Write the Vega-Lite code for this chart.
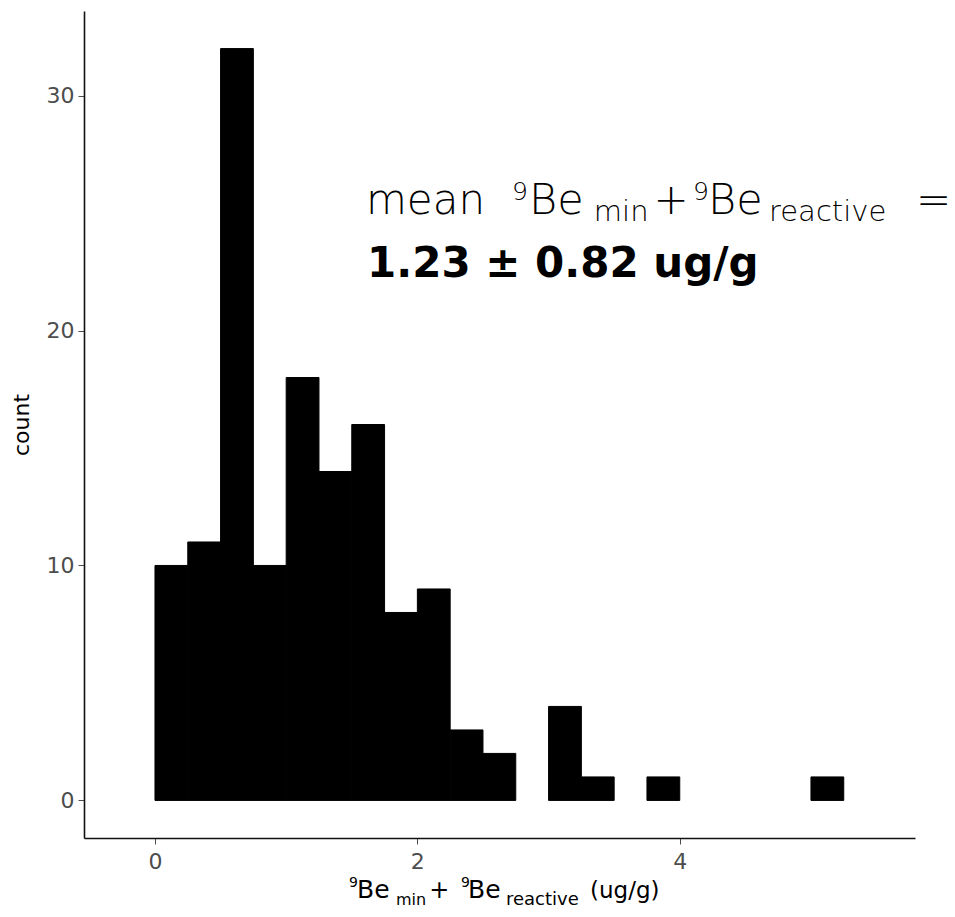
{
  "$schema": "https://vega.github.io/schema/vega-lite/v6.json",
  "width": 831,
  "height": 827,
  "autosize": {"type": "none"},
  "padding": {"left": 84, "top": 11, "right": 40, "bottom": 79},
  "background": "white",
  "config": {"view": {"stroke": null}, "font": "DejaVu Sans"},
  "layer": [
    {
      "data": {"values": [
        {"bin_start": 0.0, "bin_end": 0.25, "count": 10},
        {"bin_start": 0.25, "bin_end": 0.5, "count": 11},
        {"bin_start": 0.5, "bin_end": 0.75, "count": 32},
        {"bin_start": 0.75, "bin_end": 1.0, "count": 10},
        {"bin_start": 1.0, "bin_end": 1.25, "count": 18},
        {"bin_start": 1.25, "bin_end": 1.5, "count": 14},
        {"bin_start": 1.5, "bin_end": 1.75, "count": 16},
        {"bin_start": 1.75, "bin_end": 2.0, "count": 8},
        {"bin_start": 2.0, "bin_end": 2.25, "count": 9},
        {"bin_start": 2.25, "bin_end": 2.5, "count": 3},
        {"bin_start": 2.5, "bin_end": 2.75, "count": 2},
        {"bin_start": 3.0, "bin_end": 3.25, "count": 4},
        {"bin_start": 3.25, "bin_end": 3.5, "count": 1},
        {"bin_start": 3.75, "bin_end": 4.0, "count": 1},
        {"bin_start": 5.0, "bin_end": 5.25, "count": 1}
      ]},
      "mark": {"type": "rect", "color": "black", "stroke": "black", "strokeWidth": 1},
      "encoding": {
        "x": {
          "field": "bin_start", "type": "quantitative",
          "scale": {"domain": [-0.541, 5.793], "nice": false, "zero": false},
          "axis": {"values": [0, 2, 4], "title": null, "grid": false, "labelFontSize": 22, "labelColor": "#4d4d4d", "tickColor": "#4d4d4d", "tickSize": 6, "tickWidth": 1, "labelPadding": 7, "domainColor": "#111111", "domainWidth": 1.6, "format": "d"}
        },
        "x2": {"field": "bin_end"},
        "y": {
          "field": "count", "type": "quantitative",
          "scale": {"domain": [-1.6, 33.6], "nice": false, "zero": false},
          "axis": {"values": [0, 10, 20, 30], "title": "count", "grid": false, "labelFontSize": 22, "labelColor": "#4d4d4d", "tickColor": "#4d4d4d", "tickSize": 6, "tickWidth": 1, "labelPadding": 4, "domainColor": "#111111", "domainWidth": 1.6, "titleFontSize": 22, "titleFontWeight": "normal", "titleColor": "black", "titlePadding": 13, "format": "d"}
        },
        "y2": {"datum": 0}
      }
    },
    {"data": {"values": [{"label": "mean"}]}, "mark": {"type": "text", "align": "left", "baseline": "alphabetic", "fontSize": 42, "fontWeight": 200, "color": "black", "clip": false},
     "encoding": {"text": {"field": "label"}, "x": {"datum": 1.608}, "y": {"datum": 24.96}}},
    {"data": {"values": [{"label": "9"}]}, "mark": {"type": "text", "align": "left", "baseline": "alphabetic", "fontSize": 25, "fontWeight": 200, "color": "black", "clip": false},
     "encoding": {"text": {"field": "label"}, "x": {"datum": 2.721}, "y": {"datum": 25.55}}},
    {"data": {"values": [{"label": "Be"}]}, "mark": {"type": "text", "align": "left", "baseline": "alphabetic", "fontSize": 43, "fontWeight": 200, "color": "black", "clip": false},
     "encoding": {"text": {"field": "label"}, "x": {"datum": 2.851}, "y": {"datum": 24.96}}},
    {"data": {"values": [{"label": "min"}]}, "mark": {"type": "text", "align": "left", "baseline": "alphabetic", "fontSize": 29, "fontWeight": 200, "color": "black", "clip": false},
     "encoding": {"text": {"field": "label"}, "x": {"datum": 3.345}, "y": {"datum": 24.66}}},
    {"data": {"values": [{"label": "+"}]}, "mark": {"type": "text", "align": "left", "baseline": "alphabetic", "fontSize": 42, "fontWeight": 200, "color": "black", "clip": false},
     "encoding": {"text": {"field": "label"}, "x": {"datum": 3.8}, "y": {"datum": 24.96}}},
    {"data": {"values": [{"label": "9"}]}, "mark": {"type": "text", "align": "left", "baseline": "alphabetic", "fontSize": 25, "fontWeight": 200, "color": "black", "clip": false},
     "encoding": {"text": {"field": "label"}, "x": {"datum": 4.1}, "y": {"datum": 25.55}}},
    {"data": {"values": [{"label": "Be"}]}, "mark": {"type": "text", "align": "left", "baseline": "alphabetic", "fontSize": 43, "fontWeight": 200, "color": "black", "clip": false},
     "encoding": {"text": {"field": "label"}, "x": {"datum": 4.215}, "y": {"datum": 24.96}}},
    {"data": {"values": [{"label": "reactive"}]}, "mark": {"type": "text", "align": "left", "baseline": "alphabetic", "fontSize": 29, "fontWeight": 200, "color": "black", "clip": false},
     "encoding": {"text": {"field": "label"}, "x": {"datum": 4.68}, "y": {"datum": 24.66}}},
    {"data": {"values": [{"label": "="}]}, "mark": {"type": "text", "align": "left", "baseline": "alphabetic", "fontSize": 42, "fontWeight": 200, "color": "black", "clip": false},
     "encoding": {"text": {"field": "label"}, "x": {"datum": 5.8}, "y": {"datum": 24.96}}},
    {"data": {"values": [{"label": "1.23 ± 0.82 ug/g"}]}, "mark": {"type": "text", "align": "left", "baseline": "alphabetic", "fontSize": 42, "fontWeight": "bold", "color": "black", "clip": false},
     "encoding": {"text": {"field": "label"}, "x": {"datum": 1.616}, "y": {"datum": 22.28}}},
    {"data": {"values": [{"label": "9"}]}, "mark": {"type": "text", "align": "left", "baseline": "alphabetic", "fontSize": 14, "color": "black", "clip": false},
     "encoding": {"text": {"field": "label"}, "x": {"datum": 1.479}, "y": {"datum": -3.686}}},
    {"data": {"values": [{"label": "Be"}]}, "mark": {"type": "text", "align": "left", "baseline": "alphabetic", "fontSize": 25, "color": "black", "clip": false},
     "encoding": {"text": {"field": "label"}, "x": {"datum": 1.54}, "y": {"datum": -4.155}}},
    {"data": {"values": [{"label": "min"}]}, "mark": {"type": "text", "align": "left", "baseline": "alphabetic", "fontSize": 16, "color": "black", "clip": false},
     "encoding": {"text": {"field": "label"}, "x": {"datum": 1.837}, "y": {"datum": -4.453}}},
    {"data": {"values": [{"label": "+"}]}, "mark": {"type": "text", "align": "left", "baseline": "alphabetic", "fontSize": 24, "color": "black", "clip": false},
     "encoding": {"text": {"field": "label"}, "x": {"datum": 2.09}, "y": {"datum": -4.155}}},
    {"data": {"values": [{"label": "9"}]}, "mark": {"type": "text", "align": "left", "baseline": "alphabetic", "fontSize": 14, "color": "black", "clip": false},
     "encoding": {"text": {"field": "label"}, "x": {"datum": 2.332}, "y": {"datum": -3.686}}},
    {"data": {"values": [{"label": "Be"}]}, "mark": {"type": "text", "align": "left", "baseline": "alphabetic", "fontSize": 25, "color": "black", "clip": false},
     "encoding": {"text": {"field": "label"}, "x": {"datum": 2.386}, "y": {"datum": -4.155}}},
    {"data": {"values": [{"label": "reactive"}]}, "mark": {"type": "text", "align": "left", "baseline": "alphabetic", "fontSize": 18, "color": "black", "clip": false},
     "encoding": {"text": {"field": "label"}, "x": {"datum": 2.675}, "y": {"datum": -4.453}}},
    {"data": {"values": [{"label": "(ug/g)"}]}, "mark": {"type": "text", "align": "left", "baseline": "alphabetic", "fontSize": 23, "color": "black", "clip": false},
     "encoding": {"text": {"field": "label"}, "x": {"datum": 3.316}, "y": {"datum": -4.155}}}
  ]
}
